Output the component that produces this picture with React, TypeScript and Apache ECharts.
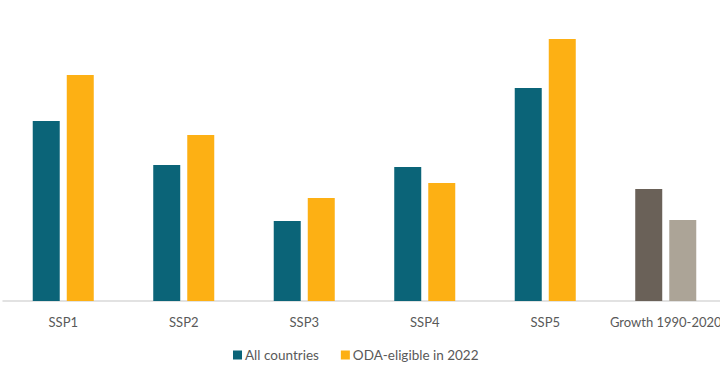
import React, { useEffect, useRef } from "react";
import * as echarts from "echarts";

const categories = ["SSP1", "SSP2", "SSP3", "SSP4", "SSP5", "Growth 1990-2020"];
const allCountries = [180, 136, 80, 134, 213, 112];
const odaEligible = [226, 166, 103, 118, 262, 81];
const seriesNames = ["All countries", "ODA-eligible in 2022"];

const TEAL = "#0b6478";
const YELLOW = "#fdb014";
const DARK = "#6a6158";
const LIGHT = "#aca497";

export default function App() {
  const ref = useRef<HTMLDivElement>(null);
  useEffect(() => {
    document.body.style.margin = "0";
    const chart = echarts.init(ref.current!, null, { renderer: "svg" });
    const last = categories.length - 1;
    chart.setOption({
      animation: false,
      backgroundColor: "#ffffff",
      grid: { left: 3, right: 4, top: 0, height: 301 },
      legend: {
        bottom: 9,
        left: 228,
        itemWidth: 9,
        itemHeight: 9,
        itemGap: 22,
        icon: "rect",
        textStyle: { fontFamily: "Lato", fontSize: 13.5, color: "#595959", padding: [0, 0, 0, -2] },
        data: seriesNames,
      },
      xAxis: {
        type: "category",
        data: categories,
        axisLine: { lineStyle: { color: "#d9d9d9", width: 1.5 } },
        axisTick: { show: false },
        axisLabel: { fontFamily: "Lato", fontSize: 13, color: "#595959", margin: 14, interval: 0 },
      },
      yAxis: {
        type: "value",
        min: 0,
        max: 301,
        show: false,
        splitLine: { show: false },
      },
      series: [
        {
          name: seriesNames[0],
          type: "bar",
          barWidth: 27,
          barGap: "26%",
          itemStyle: { color: TEAL },
          data: allCountries.map((v, i) => (i === last ? { value: v, itemStyle: { color: DARK } } : v)),
        },
        {
          name: seriesNames[1],
          type: "bar",
          barWidth: 27,
          itemStyle: { color: YELLOW },
          data: odaEligible.map((v, i) => (i === last ? { value: v, itemStyle: { color: LIGHT } } : v)),
        },
      ],
    });
    return () => chart.dispose();
  }, []);
  return (
    <div style={{ width: 720, height: 376, overflow: "hidden", background: "#fff" }}>
      <div ref={ref} style={{ width: 730, height: 376 }} />
    </div>
  );
}
